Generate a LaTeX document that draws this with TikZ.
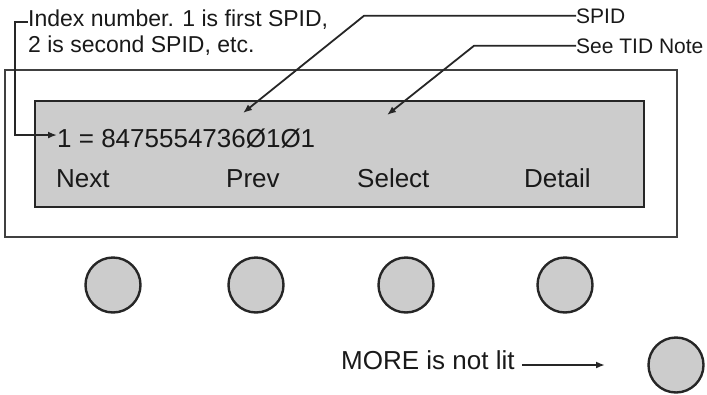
\documentclass[tikz,border=0pt]{standalone}
\usepackage{fontspec}
\setmainfont{Liberation Sans}
\usetikzlibrary{positioning,arrows.meta}
\begin{document}
\begin{tikzpicture}[x=1pt,y=-1pt,>={Latex[length=9pt,width=7pt]}]
\tikzset{
  keylabel/.style={font=\fontsize{26}{30}\selectfont, text=black!90, anchor=base west, inner sep=0pt},
  note/.style={font=\fontsize{21}{26}\selectfont, text=black!90, inner sep=0pt, align=left},
  softkey/.style={circle, draw=black!85, line width=2.4pt, fill=black!20, minimum size=55pt, inner sep=0pt},
  pointer/.style={->, line width=1.8pt, draw=black!85}
}
\useasboundingbox (0,0) rectangle (707,394);

% panel and display
\draw[black!75, line width=2.4pt] (5,70) rectangle (677,237);
\draw[black!85, line width=2.4pt, fill=black!20] (35,101) rectangle (644,207);

\node[keylabel] (spid) at (57,147) {1 = 8475554736Ø1Ø1};
\node[keylabel] (next) at (56,187) {Next};
\node[keylabel] (prev) at (226,187) {Prev};
\node[keylabel] (select) at (357,187) {Select};
\node[keylabel] (detail) at (524,187) {Detail};

% soft keys
\foreach \n/\x in {key1/113, key2/256, key3/406, key4/565}
    \node[softkey] (\n) at (\x,285) {};
\node[softkey] (more) at (676,365) {};

\node[keylabel] (morelbl) at (341,369) {MORE is not lit};
\coordinate (moretip) at (605,365);
\draw[pointer] ([xshift=7pt]morelbl.base east |- moretip) -- (moretip);

% callouts
\node[note, font=\fontsize{23}{26}\selectfont, anchor=north west] (idx) at (28,10) {Index number. 1 is first SPID,\\2 is second SPID, etc.};
\draw[pointer] ([yshift=-12pt]idx.north west) -- ++(-13,0) |- ([yshift=3pt]spid.west);

\node[note, anchor=base west] (spidlbl) at (576,23) {SPID};
\coordinate (spidtip) at (243,113);
\draw[pointer] (spidlbl.west) -- ++(-212,0) -- (spidtip);

\node[note, anchor=base west] (tidlbl) at (576,53) {See TID Note};
\coordinate (tidtip) at (387,115);
\draw[pointer] (tidlbl.west) -- ++(-102,0) -- (tidtip);
\end{tikzpicture}
\end{document}
